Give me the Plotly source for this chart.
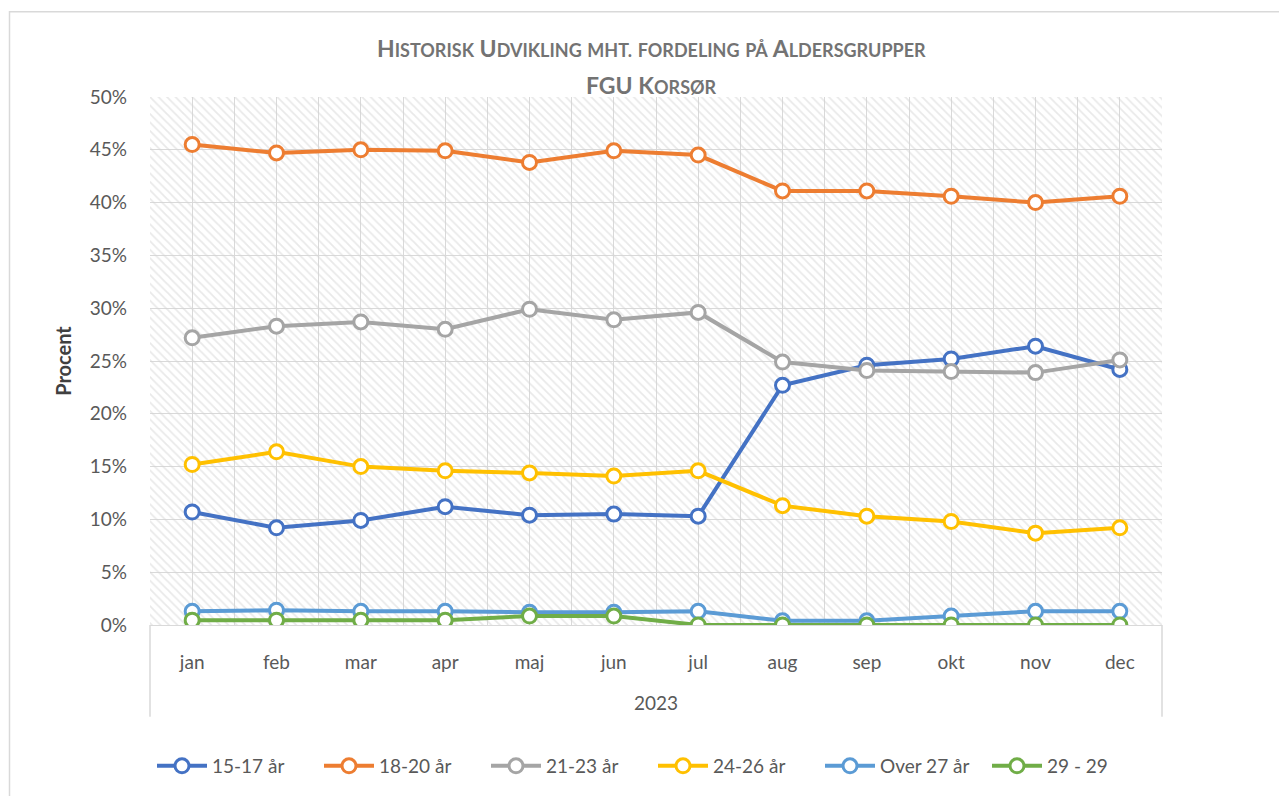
import plotly.graph_objects as go

# ---------------- data ----------------
months = ["jan", "feb", "mar", "apr", "maj", "jun", "jul", "aug", "sep", "okt", "nov", "dec"]
year_label = "2023"

series_names = ["15-17 år", "18-20 år", "21-23 år", "24-26 år", "Over 27 år", "29 - 29"]

s_15_17 = [0.107, 0.092, 0.099, 0.112, 0.104, 0.105, 0.103, 0.227, 0.246, 0.252, 0.264, 0.242]
s_18_20 = [0.455, 0.447, 0.450, 0.449, 0.438, 0.449, 0.445, 0.411, 0.411, 0.406, 0.400, 0.406]
s_21_23 = [0.272, 0.283, 0.287, 0.280, 0.299, 0.289, 0.296, 0.249, 0.241, 0.240, 0.239, 0.251]
s_24_26 = [0.152, 0.164, 0.150, 0.146, 0.144, 0.141, 0.146, 0.113, 0.103, 0.098, 0.087, 0.092]
s_over27 = [0.013, 0.014, 0.013, 0.013, 0.012, 0.012, 0.013, 0.004, 0.004, 0.0085, 0.013, 0.013]
s_29_29 = [0.0045, 0.0045, 0.0045, 0.0045, 0.0085, 0.0085, 0.0, 0.0, 0.0, 0.0, 0.0, 0.0]

series_values = [s_15_17, s_18_20, s_21_23, s_24_26, s_over27, s_29_29]
series_colors = ["#4472C4", "#ED7D31", "#A5A5A5", "#FFC000", "#5B9BD5", "#70AD47"]

y_min, y_max, y_step = 0.0, 0.5, 0.05

# ---------------- figure ----------------
W, H = 1279, 796
ML, MR, MT, MB = 150, 117, 97, 170
PW, PH = W - ML - MR, H - MT - MB

FONT = "Lato, 'Open Sans', sans-serif"
TXT = "#595959"
GRID = "#d9d9d9"

x_idx = list(range(len(months)))

fig = go.Figure()

# hatched plot-area background (decorative, spans the axis range)
fig.add_trace(go.Bar(
    x=x_idx, y=[y_max] * len(months), width=1.0,
    marker=dict(color="rgba(0,0,0,0)", line=dict(width=0),
                pattern=dict(shape="\\", fgcolor="#d4d4d4", bgcolor="rgba(0,0,0,0)",
                             size=6, solidity=0.3)),
    hoverinfo="skip", showlegend=False,
))

for name, vals, col in zip(series_names, series_values, series_colors):
    fig.add_trace(go.Scatter(
        x=x_idx, y=vals, name=name, mode="lines+markers",
        line=dict(color=col, width=4),
        marker=dict(symbol="circle", size=14, color="white",
                    line=dict(color=col, width=3)),
    ))

def px_x(px):
    return (px - ML) / PW

def px_y(py):
    return (H - MB - py) / PH

half_steps = [i - 0.5 for i in range(len(months) + 1)]

fig.update_layout(
    width=W, height=H,
    margin=dict(l=ML, r=MR, t=MT, b=MB, pad=0),
    paper_bgcolor="white", plot_bgcolor="white",
    font=dict(family=FONT, size=19, color=TXT),
    bargap=0,
    showlegend=True,
    legend=dict(orientation="h", x=px_x(152), xanchor="left", y=px_y(766), yanchor="middle",
                font=dict(size=19, color=TXT), itemwidth=50, entrywidth=102,
                traceorder="normal"),
    xaxis=dict(
        range=[-0.5, len(months) - 0.5], tickvals=x_idx, ticktext=months,
        showgrid=True, gridcolor=GRID, gridwidth=1,
        minor=dict(tickvals=half_steps, showgrid=True, gridcolor=GRID, gridwidth=1),
        showline=True, linecolor=GRID, linewidth=1, zeroline=False,
        ticks="", ticklabelstandoff=20, tickfont=dict(size=19, color=TXT),
        fixedrange=True,
    ),
    yaxis=dict(
        range=[y_min, y_max], dtick=y_step, tickformat=".0%",
        showgrid=True, gridcolor=GRID, gridwidth=1, zeroline=False,
        showline=False, ticks="", ticklabelstandoff=22,
        tickfont=dict(size=19, color=TXT),
        title=dict(text="<b>Procent</b>", font=dict(size=20, color="#404040"), standoff=12),
        fixedrange=True,
    ),
)

def small_caps(words, big=23, small=18):
    parts = []
    for w in words:
        if w and w[0].isupper():
            first, rest = w[0], w[1:]
            s = f"<span style='font-size:{big}px'>{first}</span>"
            if rest:
                s += f"<span style='font-size:{small}px'>{rest.upper()}</span>"
        else:
            s = f"<span style='font-size:{small}px'>{w.upper()}</span>"
        parts.append(s)
    return " ".join(parts)

title1 = small_caps(["Historisk", "Udvikling", "mht.", "fordeling", "på", "Aldersgrupper"])
title2 = "<span style='font-size:23px'>FGU</span> " + small_caps(["Korsør"])

TITLE_C = "#737373"
fig.add_annotation(text="<b>" + title1 + "</b>", xref="paper", yref="paper",
                   x=px_x(651), y=px_y(48), showarrow=False, xanchor="center", yanchor="middle",
                   font=dict(family=FONT, size=23, color=TITLE_C))
fig.add_annotation(text="<b>" + title2 + "</b>", xref="paper", yref="paper",
                   x=px_x(651), y=px_y(85), showarrow=False, xanchor="center", yanchor="middle",
                   font=dict(family=FONT, size=23, color=TITLE_C))

# group label under month labels
fig.add_annotation(text=year_label, xref="paper", yref="paper",
                   x=0.5, y=px_y(704), showarrow=False, xanchor="center", yanchor="middle",
                   font=dict(family=FONT, size=19, color=TXT))

# category-group box lines and outer chart border
fig.add_shape(type="line", xref="paper", yref="paper", x0=0, x1=0, y0=0, y1=px_y(718),
              line=dict(color=GRID, width=1.5))
fig.add_shape(type="line", xref="paper", yref="paper", x0=1, x1=1, y0=0, y1=px_y(718),
              line=dict(color=GRID, width=1.5))
fig.add_shape(type="rect", xref="paper", yref="paper",
              x0=px_x(9.5), x1=px_x(1290), y0=px_y(11.5), y1=px_y(800),
              line=dict(color=GRID, width=1.5), fillcolor="rgba(0,0,0,0)", layer="below")

fig.write_html("out.html", config={"displayModeBar": False},
               post_script="document.body.style.margin='0';document.body.style.overflow='hidden';")
